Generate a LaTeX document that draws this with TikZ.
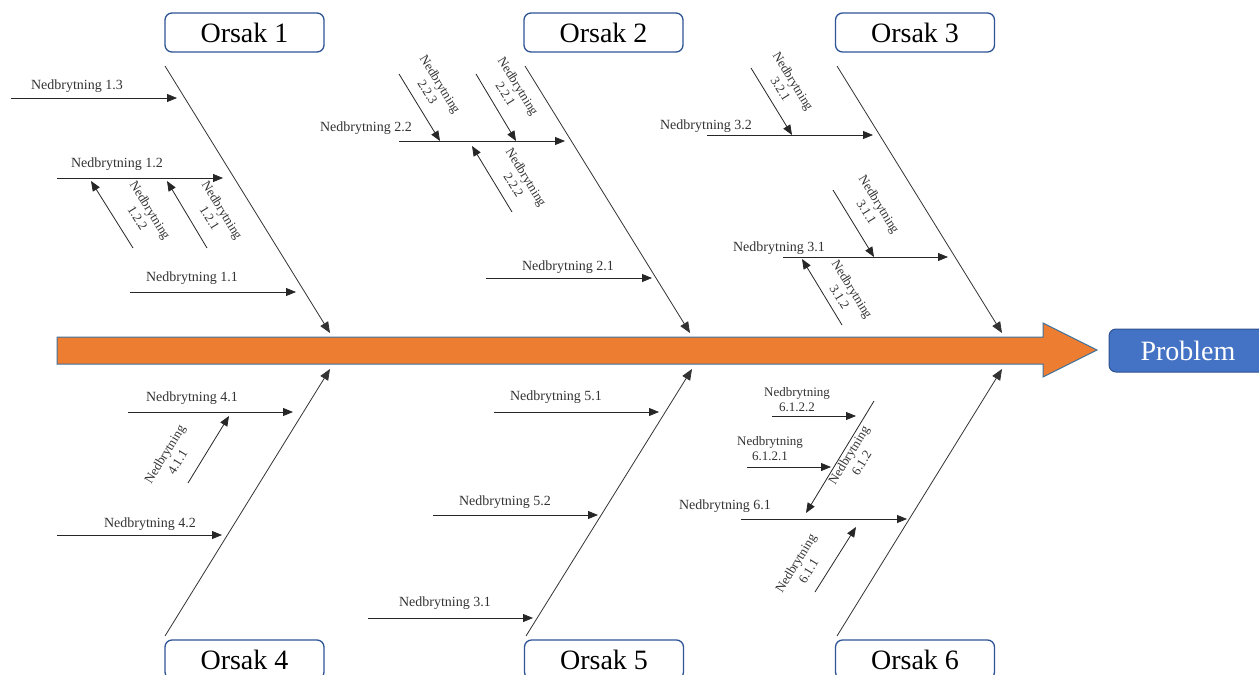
\documentclass[tikz,border=0pt]{standalone}
\usepackage{fontspec}
\setmainfont{Liberation Serif}
\usetikzlibrary{arrows.meta}
\definecolor{boxblue}{HTML}{2F5597}
\definecolor{probfill}{HTML}{4472C4}
\definecolor{probdraw}{HTML}{2F528F}
\definecolor{spine}{HTML}{ED7D31}
\definecolor{spineline}{HTML}{41719C}
\tikzset{
  lbl/.style={font=\fontsize{14}{16}\selectfont, text=black!80, inner sep=0pt},
  lbltwo/.style={font=\fontsize{13}{15}\selectfont, text=black!80, align=center, inner sep=0pt},
  br/.style={draw=black!85, line width=0.8pt, -{Triangle[length=10pt,width=8pt]}},
  bone/.style={draw=black!80, line width=0.8pt, -{Triangle[length=11pt,width=9pt]}},
  cause/.style={draw=boxblue, line width=1.3pt, rounded corners=7pt, fill=white,
    minimum width=159pt, minimum height=39pt, inner sep=0pt,
    font=\fontsize{28}{30}\selectfont},
  down/.style={rotate=-58.3},
  up/.style={rotate=58.3}
}
\begin{document}
\begin{tikzpicture}[x=1pt,y=-1pt]
\useasboundingbox (0,0) rectangle (1259,675);
\clip (0,0) rectangle (1259,675);
\fill[white] (0,0) rectangle (1259,675);

% spine
\draw[fill=spine, draw=spineline, line width=1pt]
  (57,337) -- (1043,337) -- (1043,323) -- (1097,350) -- (1043,377) -- (1043,364) -- (57,364) -- cycle;
\node[draw=probdraw, fill=probfill, line width=1pt, rounded corners=7pt,
  minimum width=158pt, minimum height=43pt, inner sep=0pt, text=white,
  font=\fontsize{28}{30}\selectfont] (prob) at (1188,350.5) {Problem};

% cause boxes
\node[cause] (c1) at (244.5,32.5) {Orsak 1};
\node[cause] (c2) at (603.5,32.5) {Orsak 2};
\node[cause] (c3) at (915,32.5) {Orsak 3};
\node[cause] (c4) at (244.5,659.5) {Orsak 4};
\node[cause] (c5) at (604,659.5) {Orsak 5};
\node[cause] (c6) at (915,659.5) {Orsak 6};

% main bones
\coordinate (b1s) at (165,66);  \coordinate (b1e) at (330,333);
\coordinate (b2s) at (525,66);  \coordinate (b2e) at (690,333);
\coordinate (b3s) at (837,66);  \coordinate (b3e) at (1002,333);
\coordinate (b4s) at (165,636); \coordinate (b4e) at (330,369);
\coordinate (b5s) at (526,636); \coordinate (b5e) at (692,369);
\coordinate (b6s) at (837,636); \coordinate (b6e) at (1002,369);
\foreach \i in {1,...,6} \draw[bone] (b\i s) -- (b\i e);

% Orsak 1
\coordinate (s13) at (11,98);   \coordinate (e13) at (177,98);
\coordinate (s12) at (57,178);  \coordinate (e12) at (223,178);
\coordinate (s122) at (133,248); \coordinate (e122) at (91,181);
\coordinate (s121) at (207,248); \coordinate (e121) at (167,181);
\coordinate (s11) at (130,292); \coordinate (e11) at (296,292);
\draw[br] (s13) -- (e13);
\draw[br] (s12) -- (e12);
\draw[br] (s122) -- (e122);
\draw[br] (s121) -- (e121);
\draw[br] (s11) -- (e11);
\node[lbl] (l13) at (77,86) {Nedbrytning 1.3};
\node[lbl] (l12) at (117,164) {Nedbrytning 1.2};
\node[lbltwo,down] (l122) at (144,214) {Nedbrytning\\1.2.2};
\node[lbltwo,down] (l121) at (216,214) {Nedbrytning\\1.2.1};
\node[lbl] (l11) at (192,278) {Nedbrytning 1.1};

% Orsak 2
\coordinate (s22) at (399,141);  \coordinate (e22) at (565,141);
\coordinate (s223) at (399,74);  \coordinate (e223) at (440,141);
\coordinate (s221) at (476,74);  \coordinate (e221) at (516,141);
\coordinate (s222) at (512,212); \coordinate (e222) at (472,146);
\coordinate (s21) at (486,278);  \coordinate (e21) at (652,278);
\draw[br] (s22) -- (e22);
\draw[br] (s223) -- (e223);
\draw[br] (s221) -- (e221);
\draw[br] (s222) -- (e222);
\draw[br] (s21) -- (e21);
\node[lbl] (l22) at (366,128) {Nedbrytning 2.2};
\node[lbltwo,down] (l223) at (434,88) {Nedbrytning\\2.2.3};
\node[lbltwo,down] (l221) at (512,90) {Nedbrytning\\2.2.1};
\node[lbltwo,down] (l222) at (520,181) {Nedbrytning\\2.2.2};
\node[lbl] (l21) at (568,267) {Nedbrytning 2.1};

% Orsak 3
\coordinate (s32) at (707,135);  \coordinate (e32) at (873,135);
\coordinate (s321) at (751,68);  \coordinate (e321) at (792,135);
\coordinate (s31) at (783,257);  \coordinate (e31) at (948,257);
\coordinate (s311) at (833,190); \coordinate (e311) at (874,257);
\coordinate (s312) at (842,325); \coordinate (e312) at (802,259);
\draw[br] (s32) -- (e32);
\draw[br] (s321) -- (e321);
\draw[br] (s31) -- (e31);
\draw[br] (s311) -- (e311);
\draw[br] (s312) -- (e312);
\node[lbl] (l32) at (706,126) {Nedbrytning 3.2};
\node[lbltwo,down] (l321) at (787,85) {Nedbrytning\\3.2.1};
\node[lbl] (l31) at (779,248) {Nedbrytning 3.1};
\node[lbltwo,down] (l311) at (873,208) {Nedbrytning\\3.1.1};
\node[lbltwo,down] (l312) at (846,293) {Nedbrytning\\3.1.2};

% Orsak 4
\coordinate (s41) at (128,412);  \coordinate (e41) at (293,412);
\coordinate (s411) at (188,483); \coordinate (e411) at (229,416);
\coordinate (s42) at (57,535);   \coordinate (e42) at (222,535);
\draw[br] (s41) -- (e41);
\draw[br] (s411) -- (e411);
\draw[br] (s42) -- (e42);
\node[lbl] (l41) at (192,398) {Nedbrytning 4.1};
\node[lbltwo,up] (l411) at (171,458) {Nedbrytning\\4.1.1};
\node[lbl] (l42) at (150,524) {Nedbrytning 4.2};

% Orsak 5
\coordinate (s51) at (494,412);  \coordinate (e51) at (659,412);
\coordinate (s52) at (433,515);  \coordinate (e52) at (598,515);
\coordinate (s53) at (368,618);  \coordinate (e53) at (533,618);
\draw[br] (s51) -- (e51);
\draw[br] (s52) -- (e52);
\draw[br] (s53) -- (e53);
\node[lbl] (l51) at (556,397) {Nedbrytning 5.1};
\node[lbl] (l52) at (505,502) {Nedbrytning 5.2};
\node[lbl] (l53) at (445,603) {Nedbrytning 3.1};

% Orsak 6
\coordinate (s6122) at (772,416); \coordinate (e6122) at (856,416);
\coordinate (s6121) at (747,467); \coordinate (e6121) at (831,467);
\coordinate (s612) at (874,401);  \coordinate (e612) at (806,513);
\coordinate (s61) at (741,519);   \coordinate (e61) at (907,519);
\coordinate (s611) at (815,592);  \coordinate (e611) at (856,527);
\draw[br] (s6122) -- (e6122);
\draw[br] (s6121) -- (e6121);
\draw[br] (s612) -- (e612);
\draw[br] (s61) -- (e61);
\draw[br] (s611) -- (e611);
\node[lbltwo] (l6122) at (797,400) {Nedbrytning\\6.1.2.2};
\node[lbltwo] (l6121) at (770,449) {Nedbrytning\\6.1.2.1};
\node[lbltwo,up] (l612) at (855,459) {Nedbrytning\\6.1.2};
\node[lbl] (l61) at (725,506) {Nedbrytning 6.1};
\node[lbltwo,up] (l611) at (802,567) {Nedbrytning\\6.1.1};
\end{tikzpicture}
\end{document}
